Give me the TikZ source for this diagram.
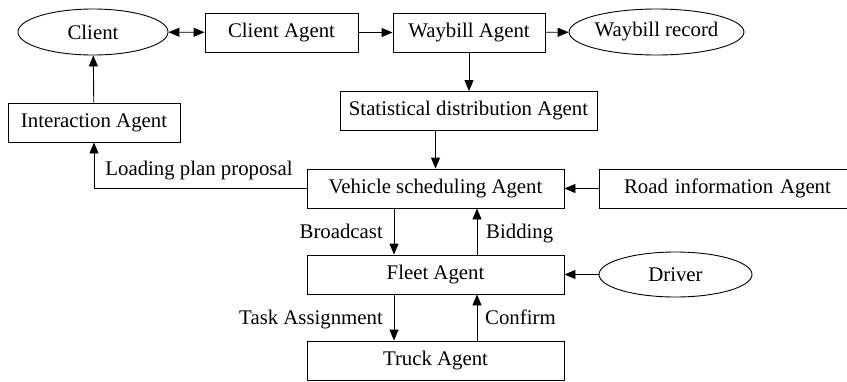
\documentclass[tikz,border=0pt]{standalone}
\usepackage{fontspec}
\setmainfont{Liberation Serif}
\usetikzlibrary{arrows.meta,shapes.geometric}
\begin{document}
\begin{tikzpicture}[x=1bp,y=-1bp,
  every node/.style={font=\fontsize{20.8bp}{25bp}\selectfont, inner sep=0pt},
  agent/.style={draw, line width=0.9bp, rectangle, minimum height=39bp},
  actor/.style={draw, line width=0.9bp, ellipse, minimum height=46bp, minimum width=152bp},
  tip/.style={Triangle[length=11bp,width=9bp]},
  flow/.style={draw, line width=0.9bp, -{Triangle[length=11bp,width=9bp]}},
  lbl/.style={font=\fontsize{20.8bp}{25bp}\selectfont}
]
\useasboundingbox (0,0) rectangle (847,381);

% nodes
\node[actor, minimum width=150bp] (client) at (93,32) {Client};
\node[agent, minimum width=153bp] (cagent) at (281.5,32.5) {Client Agent};
\node[agent, minimum width=152bp] (wagent) at (469,32.5) {Waybill Agent};
\node[actor, minimum width=153bp] (wrec) at (656.5,32) {Waybill record};
\node[agent, minimum width=257bp] (stat) at (468.5,111) {Statistical distribution Agent};
\node[agent, minimum width=172bp] (inter) at (94,122.5) {Interaction Agent};
\node[agent, minimum width=257bp] (veh) at (435.5,188.5) {Vehicle scheduling Agent};
\node[agent, minimum width=257bp, text width=257bp, align=center] (road) at (727.5,188.5) {Road information Agent};
\node[agent, minimum width=257bp] (fleet) at (435.5,274.5) {Fleet Agent};
\node[actor, minimum width=153bp, minimum height=45bp] (driver) at (675.5,274.5) {Driver};
\node[agent, minimum width=257bp] (truck) at (435.5,360.5) {Truck Agent};

% connectors
\draw[line width=0.9bp, {Triangle[length=11bp,width=9bp]}-{Triangle[length=11bp,width=9bp]}] (client) -- (cagent);
\draw[flow] (cagent) -- (wagent);
\draw[flow] (wagent) -- (wrec);
\draw[flow] (wagent) -- (wagent |- stat.north);
\draw[flow] (veh.north |- stat.south) -- (veh);
\draw[flow] (inter) -- (client);
\draw[flow] (veh.west) -| (inter.south);
\draw[flow] (road) -- (veh);
\draw[flow] (driver) -- (fleet);
\draw[flow] ([xshift=-41.5bp]veh.south) -- ([xshift=-41.5bp]fleet.north);
\draw[flow] ([xshift=41.5bp]fleet.north) -- ([xshift=41.5bp]veh.south);
\draw[flow] ([xshift=-41.5bp]fleet.south) -- ([xshift=-41.5bp]truck.north);
\draw[flow] ([xshift=41.5bp]truck.north) -- ([xshift=41.5bp]fleet.south);

% labels
\node[lbl, anchor=base] (lp) at (199,175) {Loading plan proposal};
\node[lbl, anchor=base east] (bc) at (383,238) {Broadcast};
\node[lbl, anchor=base west] (bd) at (486,238) {Bidding};
\node[lbl, anchor=base east] (ta) at (383,324) {Task Assignment};
\node[lbl, anchor=base west] (cf) at (485,324) {Confirm};
\end{tikzpicture}
\end{document}
